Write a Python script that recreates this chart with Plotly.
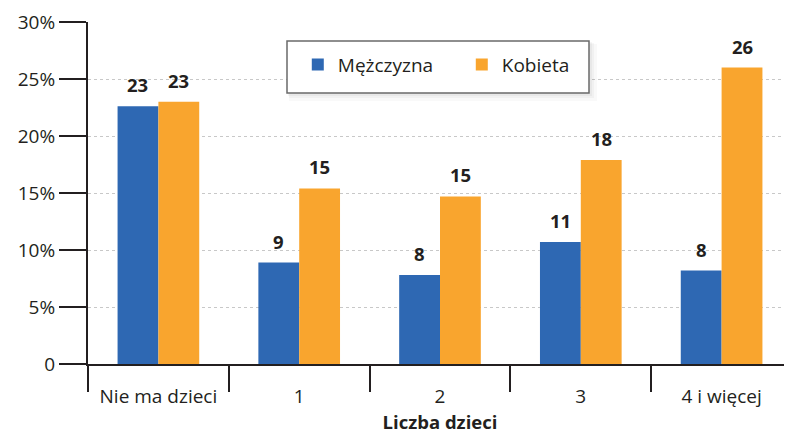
import plotly.graph_objects as go

categories = ["Nie ma dzieci", "1", "2", "3", "4 i więcej"]
men = [22.6, 8.9, 7.8, 10.7, 8.2]
women = [23.0, 15.4, 14.7, 17.9, 26.0]
men_labels = ["23", "9", "8", "11", "8"]
women_labels = ["23", "15", "15", "18", "26"]
y_ticks = [0, 5, 10, 15, 20, 25, 30]
y_ticktext = ["0", "5%", "10%", "15%", "20%", "25%", "30%"]

BLUE = "#2e68b3"
ORANGE = "#f9a52e"
DARK = "#231f20"
FONT = "Open Sans"

fig = go.Figure()
fig.add_trace(go.Bar(name="Mężczyzna", x=categories, y=men, marker=dict(color=BLUE, line=dict(width=0))))
fig.add_trace(go.Bar(name="Kobieta", x=categories, y=women, marker=dict(color=ORANGE, line=dict(width=0))))

annotations = []
for c, v, t in zip(categories, men, men_labels):
    annotations.append(dict(x=c, y=v, text=f"<b>{t}</b>", showarrow=False, xshift=-20.5,
                            yshift=7, yanchor="bottom", font=dict(size=18.5, color=DARK, family=FONT)))
for c, v, t in zip(categories, women, women_labels):
    annotations.append(dict(x=c, y=v, text=f"<b>{t}</b>", showarrow=False, xshift=20.5,
                            yshift=7, yanchor="bottom", font=dict(size=18.5, color=DARK, family=FONT)))


def px_rect(x0, y0, x1, y1, **kw):
    # legend box decoration in pixel terms of the plot area (88..792 x, 22..364 y)
    return dict(type="rect", xref="paper", yref="paper",
                x0=(x0 - 88) / 704, x1=(x1 - 88) / 704,
                y0=(364 - y1) / 342, y1=(364 - y0) / 342, **kw)


shapes = [
    px_rect(289, 44, 597, 101, line=dict(width=0), fillcolor="rgba(0,0,0,0.025)", layer="above"),
    px_rect(289, 43, 594, 98, line=dict(width=0), fillcolor="rgba(0,0,0,0.03)", layer="above"),
    px_rect(288, 42, 592, 96, line=dict(width=0), fillcolor="rgba(0,0,0,0.035)", layer="above"),
    px_rect(287, 41, 589, 93, line=dict(color="#6a6a6a", width=1.5), fillcolor="white", layer="above"),
]

fig.update_layout(
    width=784, height=426,
    margin=dict(l=80, r=0, t=14, b=70, autoexpand=False),
    paper_bgcolor="white", plot_bgcolor="white",
    barmode="group", bargap=0.42, bargroupgap=0,
    font=dict(family=FONT, size=19, color=DARK),
    annotations=annotations,
    showlegend=True,
    legend=dict(orientation="h", x=0.298, y=0.931, xanchor="left", yanchor="top",
                bgcolor="rgba(0,0,0,0)", borderwidth=0,
                font=dict(size=19, color=DARK, family=FONT),
                entrywidth=119, entrywidthmode="pixels", itemclick=False),
    shapes=shapes,
)

fig.update_xaxes(
    type="category", tickson="boundaries", ticks="outside", ticklen=26, tickwidth=2,
    tickcolor=DARK, showline=True, linecolor=DARK, linewidth=2, automargin=False,
    tickfont=dict(size=19, color=DARK, family=FONT), ticklabelstandoff=14,
    title=dict(text="<b>Liczba dzieci</b>", font=dict(size=18.5, color=DARK, family=FONT), standoff=30),
    showgrid=False,
)
fig.update_yaxes(
    range=[0, 30], tickvals=y_ticks, ticktext=y_ticktext, ticks="outside", ticklen=27,
    tickwidth=2, tickcolor=DARK, showline=True, linecolor=DARK, linewidth=2, automargin=False,
    tickfont=dict(size=19, color=DARK, family=FONT),
    showgrid=True, gridcolor="#c8c8c8", griddash="dot", gridwidth=1, zeroline=False,
)

fig.write_html("out.html")
